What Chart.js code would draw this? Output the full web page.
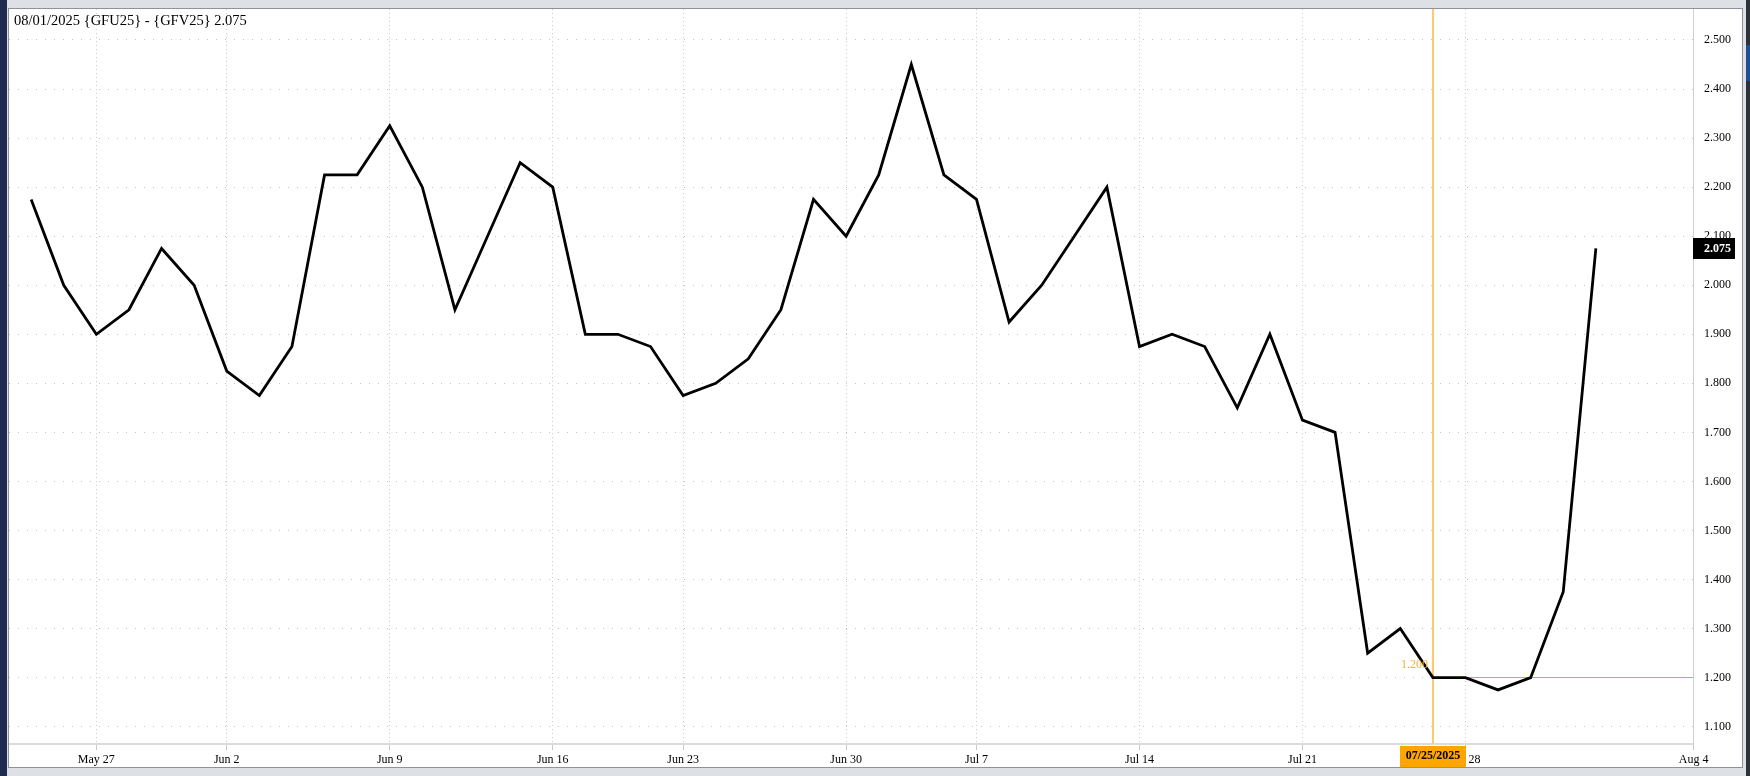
<!DOCTYPE html>
<html>
<head>
<meta charset="utf-8">
<title>GFU25 - GFV25 spread</title>
<script src="https://cdn.jsdelivr.net/npm/chart.js@4.4.1/dist/chart.umd.min.js"></script>
<style>
  html, body { margin: 0; padding: 0; }
  body { width: 1750px; height: 776px; background: #dde1e6; position: relative; overflow: hidden; }
  #navy { position: absolute; left: 0; top: 0; width: 7px; height: 776px; background: #1d2b4f; }
  #side { position: absolute; left: 1746px; top: 0; width: 4px; height: 776px; background: #2c313a; }
  #sideBlue { position: absolute; left: 1746px; top: 45px; width: 4px; height: 36px; background: #1f4f8f; }
  #panel { position: absolute; left: 8px; top: 8px; width: 1733px; height: 758px; border: 1px solid #8e939a; background: #fff; }
  #chart { position: absolute; left: 0; top: 0; }
  #title { position: absolute; left: 5px; top: 3px; font: 14.5px/16px "Liberation Serif", serif; color: #000; white-space: nowrap; z-index: 2; }
</style>
</head>
<body>
<div id="navy"></div>
<div id="side"></div>
<div id="sideBlue"></div>
<div id="panel">
  <div id="title">08/01/2025 {GFU25} - {GFV25} 2.075</div>
  <canvas id="chart" width="1733" height="758"></canvas>
</div>
<script>
// trading sessions, May 22 .. Aug 1
const dates = [
    "May 22", "May 23", "May 27", "May 28", "May 29", "May 30",
    "Jun 2", "Jun 3", "Jun 4", "Jun 5", "Jun 6",
    "Jun 9", "Jun 10", "Jun 11", "Jun 12", "Jun 13",
    "Jun 16", "Jun 17", "Jun 18", "Jun 20",
    "Jun 23", "Jun 24", "Jun 25", "Jun 26", "Jun 27",
    "Jun 30", "Jul 1", "Jul 2", "Jul 3",
    "Jul 7", "Jul 8", "Jul 9", "Jul 10", "Jul 11",
    "Jul 14", "Jul 15", "Jul 16", "Jul 17", "Jul 18",
    "Jul 21", "Jul 22", "Jul 23", "Jul 24", "Jul 25",
    "Jul 28", "Jul 29", "Jul 30", "Jul 31", "Aug 1"
];

// GFU25 - GFV25 spread close
const spread = [
    2.175, 2.000, 1.900, 1.950, 2.075, 2.000,
    1.825, 1.775, 1.875, 2.225, 2.225,
    2.325, 2.200, 1.950, 2.100, 2.250,
    2.200, 1.900, 1.900, 1.875,
    1.775, 1.800, 1.850, 1.950, 2.175,
    2.100, 2.225, 2.450, 2.225,
    2.175, 1.925, 2.000, 2.100, 2.200,
    1.875, 1.900, 1.875, 1.750, 1.900,
    1.725, 1.700, 1.250, 1.300, 1.200,
    1.200, 1.175, 1.200, 1.375, 2.075
];

// x ticks (session index; Aug 4 sits past the last bar on calendar spacing)
const xTickPos = [2, 6, 11, 16, 20, 25, 29, 34, 39, 44, 51];
const xTickText = ["May 27", "Jun 2", "Jun 9", "Jun 16", "Jun 23", "Jun 30", "Jul 7", "Jul 14", "Jul 21", "28", "Aug 4"];

const yTicks = [1.1, 1.2, 1.3, 1.4, 1.5, 1.6, 1.7, 1.8, 1.9, 2.0, 2.1, 2.2, 2.3, 2.4, 2.5];

// crosshair
const crossIdx = 43;
const crossVal = 1.200;
const crossDate = "07/25/2025";
const lastVal = 2.075;

const serif = "'Liberation Serif', serif";

const overlay = {
    id: "overlay",
    beforeDatasetsDraw(chart) {
        const { ctx, chartArea: a, scales: { x, y } } = chart;
        const cx = Math.round(x.getPixelForValue(crossIdx));
        // same pixel as the 1.200 grid line so the dots are hidden
        const cy = Math.round(y.getPixelForValue(crossVal) - 0.5) + 0.5;
        ctx.save();
        ctx.setLineDash([]);
        ctx.strokeStyle = "#ffc970";
        ctx.lineWidth = 2;
        ctx.beginPath();
        ctx.moveTo(cx, a.top);
        ctx.lineTo(cx, a.bottom);
        ctx.stroke();
        ctx.strokeStyle = "#f0a41e";
        ctx.lineWidth = 1;
        ctx.beginPath();
        ctx.moveTo(cx, cy);
        ctx.lineTo(a.right, cy);
        ctx.stroke();
        ctx.restore();
    },
    afterDraw(chart) {
        const { ctx, chartArea: a, scales: { x, y } } = chart;
        const cx = Math.round(x.getPixelForValue(crossIdx));
        const cy = y.getPixelForValue(crossVal);
        ctx.save();

        // crosshair price
        ctx.fillStyle = "#f4b032";
        ctx.font = "12px " + serif;
        ctx.textAlign = "right";
        ctx.textBaseline = "alphabetic";
        ctx.fillText(crossVal.toFixed(3), cx - 5, cy - 10);

        // crosshair date box
        ctx.fillStyle = "#ffa500";
        ctx.fillRect(cx - 33, a.bottom + 2, 66, chart.height - a.bottom - 2);
        ctx.fillStyle = "#000";
        ctx.font = "bold 12px " + serif;
        ctx.textAlign = "center";
        ctx.textBaseline = "middle";
        ctx.fillText(crossDate, cx, a.bottom + 12);

        // last value box
        const ly = y.getPixelForValue(lastVal);
        ctx.fillStyle = "#000";
        ctx.fillRect(a.right, Math.round(ly - 10.5), 42, 21);
        ctx.fillStyle = "#fff";
        ctx.textAlign = "left";
        ctx.fillText(lastVal.toFixed(3), a.right + 11, ly + 0.5);
        ctx.restore();
    }
};

new Chart(document.getElementById("chart"), {
    type: "line",
    data: {
        labels: dates,
        datasets: [{
            label: "GFU25 - GFV25",
            data: spread.map((v, i) => ({ x: i, y: v })),
            borderColor: "#000",
            borderWidth: 2.8,
            pointRadius: 0,
            tension: 0,
            fill: false
        }]
    },
    options: {
        responsive: false,
        animation: false,
        layout: { padding: 0 },
        plugins: {
            legend: { display: false },
            tooltip: { enabled: false }
        },
        scales: {
            x: {
                type: "linear",
                min: -0.68,
                max: 50.98,
                afterBuildTicks: s => { s.ticks = xTickPos.map(v => ({ value: v })); },
                afterFit: s => { s.height = 23; s.paddingLeft = 0; s.paddingRight = 0; },
                ticks: {
                    autoSkip: false,
                    maxRotation: 0,
                    padding: 3,
                    color: "#000",
                    font: { family: serif, size: 12 },
                    callback: v => {
                        const t = xTickText[xTickPos.indexOf(v)];
                        // label next to the crosshair box is pushed right
                        return t === "28" ? "\u00a0\u00a0\u00a0\u00a0\u00a0\u00a0" + t : t;
                    }
                },
                grid: {
                    color: "#cccccc",
                    tickLength: 6,
                    tickColor: "#c8c8c8",
                    tickBorderDash: []
                },
                border: { color: "#dcdcdc", width: 2, dash: [1, 3] }
            },
            y: {
                position: "right",
                min: 1.0647,
                max: 2.5632,
                afterBuildTicks: s => { s.ticks = yTicks.map(v => ({ value: v })); },
                afterFit: s => { s.width = 49; s.paddingTop = 0; s.paddingBottom = 0; },
                ticks: {
                    padding: 11,
                    color: "#000",
                    font: { family: serif, size: 12 },
                    callback: v => v.toFixed(3)
                },
                grid: { color: "#c4c4c4", drawTicks: false },
                border: { color: "#d0d0d0", width: 1, dash: [1, 8] }
            }
        }
    },
    plugins: [overlay]
});
</script>
</body>
</html>
